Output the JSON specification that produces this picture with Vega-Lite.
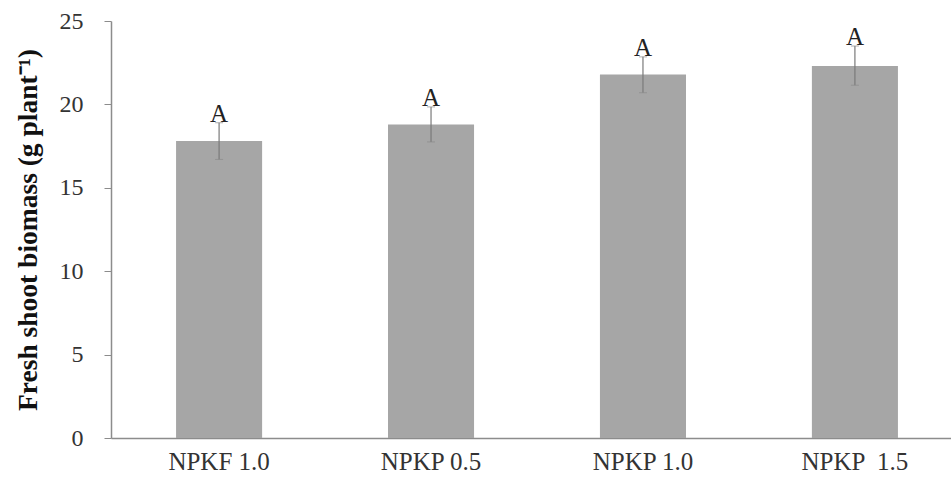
{
  "$schema": "https://vega.github.io/schema/vega-lite/v6.json",
  "width": 852,
  "height": 417,
  "autosize": {"type": "none"},
  "padding": {"left": 111, "top": 21, "right": 0, "bottom": 39},
  "background": "white",
  "config": {
    "view": {"stroke": null},
    "font": "Liberation Serif"
  },
  "data": {
    "values": [
      {"treatment": "NPKF 1.0", "biomass": 17.8, "lower": 16.7, "upper": 18.9, "group": "A"},
      {"treatment": "NPKP 0.5", "biomass": 18.8, "lower": 17.75, "upper": 19.85, "group": "A"},
      {"treatment": "NPKP 1.0", "biomass": 21.8, "lower": 20.7, "upper": 22.85, "group": "A"},
      {"treatment": "NPKP  1.5", "biomass": 22.3, "lower": 21.15, "upper": 23.5, "group": "A"}
    ]
  },
  "encoding": {
    "x": {
      "field": "treatment",
      "type": "nominal",
      "sort": null,
      "scale": {"paddingInner": 0.594, "paddingOuter": 0.307},
      "axis": {
        "title": null,
        "labelAngle": 0,
        "labelFont": "Liberation Serif",
        "labelFontSize": 25,
        "labelColor": "#333333",
        "labelPadding": 11,
        "labelExpr": "replace(datum.label, '  ', ' \u00a0')",
        "ticks": false,
        "domainColor": "#8c8c8c",
        "domainWidth": 1.5
      }
    }
  },
  "layer": [
    {
      "mark": {"type": "bar", "color": "#a6a6a6"},
      "encoding": {
        "y": {
          "field": "biomass",
          "type": "quantitative",
          "scale": {"domain": [0, 25], "nice": false},
          "axis": {
            "title": "Fresh shoot biomass (g plant⁻¹)",
            "titleFont": "Liberation Serif",
            "titleFontSize": 27.5,
            "titleFontWeight": "bold",
            "titleColor": "#111111",
            "titlePadding": 17,
            "values": [0, 5, 10, 15, 20, 25],
            "grid": false,
            "labelFont": "Liberation Serif",
            "labelFontSize": 24,
            "labelColor": "#333333",
            "labelPadding": 21,
            "tickSize": 7,
            "tickColor": "#8c8c8c",
            "domainColor": "#8c8c8c",
            "domainWidth": 1.5
          }
        }
      }
    },
    {
      "mark": {"type": "rule", "color": "#7a7a7a", "strokeWidth": 1.2},
      "encoding": {
        "y": {"field": "lower", "type": "quantitative"},
        "y2": {"field": "upper"}
      }
    },
    {
      "mark": {"type": "tick", "color": "#8a8a8a", "size": 8, "thickness": 1},
      "encoding": {
        "y": {"field": "upper", "type": "quantitative"}
      }
    },
    {
      "mark": {"type": "tick", "color": "#8a8a8a", "size": 8, "thickness": 1},
      "encoding": {
        "y": {"field": "lower", "type": "quantitative"}
      }
    },
    {
      "mark": {"type": "text", "font": "Liberation Serif", "fontSize": 25, "color": "#222222", "baseline": "alphabetic", "dy": -1},
      "encoding": {
        "y": {"field": "upper", "type": "quantitative"},
        "text": {"field": "group"}
      }
    }
  ]
}
